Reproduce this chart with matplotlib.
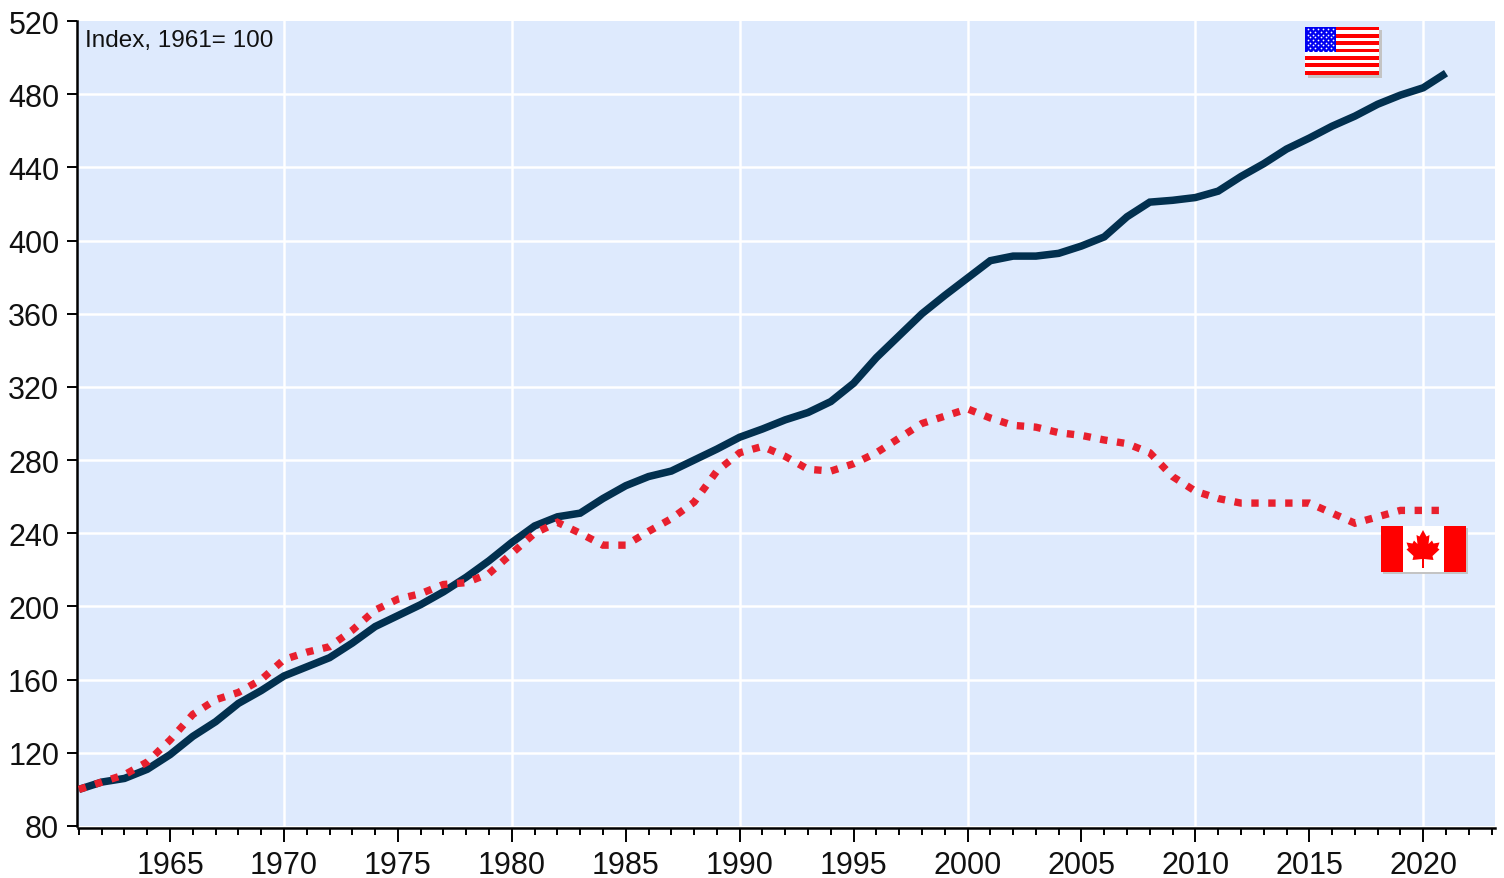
import matplotlib
matplotlib.use('Agg')
import matplotlib.pyplot as plt
import numpy as np
from matplotlib.patches import Rectangle, Polygon

plt.rcParams['font.family'] = ['Liberation Sans', 'DejaVu Sans']

years = list(range(1961, 2022))
usa = [100, 104, 106, 111, 119, 129, 137, 147, 154, 162,
       167, 172, 180, 189, 195, 201, 208, 216, 225, 235,
       244, 249, 251, 259, 266, 271, 274, 280, 286, 292.5,
       297, 302, 306, 312, 322, 336, 348, 360, 370, 379.5,
       389, 391.5, 391.5, 393, 397, 402, 413, 421, 422, 423.5,
       427, 435, 442, 450, 456, 462.5, 468, 474.5, 479.5, 483.5, 491.5]
canada = [100, 104, 108, 115, 127, 141, 149, 153, 160, 171,
          175, 178, 187, 198, 204, 207, 212, 213, 218, 229,
          240, 246, 240, 233.5, 233.5, 241, 248, 257, 274, 284,
          287.5, 282, 275, 274, 278, 284, 292, 300, 304, 308,
          303, 299, 298, 295, 293.5, 291, 289, 284, 271, 263,
          259, 256.5, 256.5, 256.5, 256.5, 251, 245.5, 249, 252.5, 252.5, 252.5]
y_ticks = list(range(80, 521, 40))
x_labels = list(range(1965, 2021, 5))
grid_years = list(range(1970, 2021, 10))

W, H = 1504, 879
fig = plt.figure(figsize=(W / 100, H / 100), dpi=100, facecolor='white')
ax = fig.add_axes([78 / W, 1 - 827 / H, (1495 - 78) / W, (827 - 22) / H])
ax.set_facecolor('#deeafd')
ax.set_xlim(1961 - 0.04, 2023.15)
ax.set_ylim(80, 520)

# grid
for v in y_ticks[1:-1]:
    ax.axhline(v, color='white', lw=1.8, zorder=1)
for yr in grid_years:
    ax.axvline(yr, color='white', lw=1.8, zorder=1)

ax.plot(years, usa, color='#02304f', lw=5.4, solid_capstyle='butt', solid_joinstyle='miter', zorder=3)
ax.plot(years, canada, color='#e8202e', lw=5.3, linestyle=(0, (1.0, 1.3)),
        dash_capstyle='butt', dash_joinstyle='miter', zorder=4)

# axes
for s in ['top', 'right']:
    ax.spines[s].set_visible(False)
for s in ['left', 'bottom']:
    ax.spines[s].set_linewidth(1.8)
ax.spines['bottom'].set_position(('outward', 1.5))
ax.spines['left'].set_position(('outward', 0.5))
ax.set_yticks(y_ticks)
ax.set_xticks(x_labels)
ax.set_xticks(years + [2022, 2023], minor=True)
ax.tick_params(axis='y', length=7.5, width=1.4, labelsize=22, pad=5.5, labelcolor='#111111')
ax.tick_params(axis='x', which='major', length=10, width=1.4, labelsize=22, pad=5.5, labelcolor='#111111')
ax.tick_params(axis='x', which='minor', length=5, width=1.4)

# overlay in pixel coords for text and flags
ov = fig.add_axes([0, 0, 1, 1], facecolor='none')
ov.set_xlim(0, W)
ov.set_ylim(H, 0)
ov.axis('off')
ov.text(85, 40.5, 'Index, 1961= 100', fontsize=17.5, va='center', ha='left', color='#111111')

# US flag
x0, x1, y0, y1 = 1305, 1379, 27.5, 75.5
ov.add_patch(Rectangle((x0 + 3, y0 + 3), x1 - x0, y1 - y0, fc='#c4c4c4', ec='none'))
ov.add_patch(Rectangle((x0, y0), x1 - x0, y1 - y0, fc='white', ec='none'))
sh = (y1 - y0) / 13
for i in range(0, 13, 2):
    ov.add_patch(Rectangle((x0, y0 + i * sh), x1 - x0, sh, fc='#ff0000', ec='none'))
ov.add_patch(Rectangle((x0, y0), 31, sh * 7, fc='#0000f0', ec='none'))
sx, sy = [], []
for r in range(9):
    n = 6 if r % 2 == 0 else 5
    for c in range(n):
        sx.append(x0 + 2.8 + c * 5.1 + (0 if r % 2 == 0 else 2.55))
        sy.append(y0 + 2.6 + r * 2.7)
ov.scatter(sx, sy, s=1.6, c='white', linewidths=0, zorder=5)

# Canadian flag
x0, x1, y0, y1 = 1381, 1466, 527, 573
ov.add_patch(Rectangle((x0 + 2, y0 + 2), x1 - x0, y1 - y0, fc='#c4c4c4', ec='none'))
ov.add_patch(Rectangle((x0, y0), x1 - x0, y1 - y0, fc='white', ec='none'))
ov.add_patch(Rectangle((x0, y0), 22, y1 - y0, fc='#ff0000', ec='none'))
ov.add_patch(Rectangle((x1 - 22, y0), 22, y1 - y0, fc='#ff0000', ec='none'))
half = [(0, 531), (3.5, 537.5), (6.5, 536), (5.5, 545), (9, 541.5), (10.5, 544.5),
        (16.5, 543.5), (14.5, 549), (16.5, 550.5), (9.5, 557), (10.5, 561), (1, 560),
        (1, 569)]
pts = [(1423 + a, b) for a, b in half] + [(1423 - a, b) for a, b in half[::-1]]
ov.add_patch(Polygon(pts, closed=True, fc='#ff0000', ec='none', zorder=5))

fig.savefig('out.png', dpi=100, facecolor='white')
